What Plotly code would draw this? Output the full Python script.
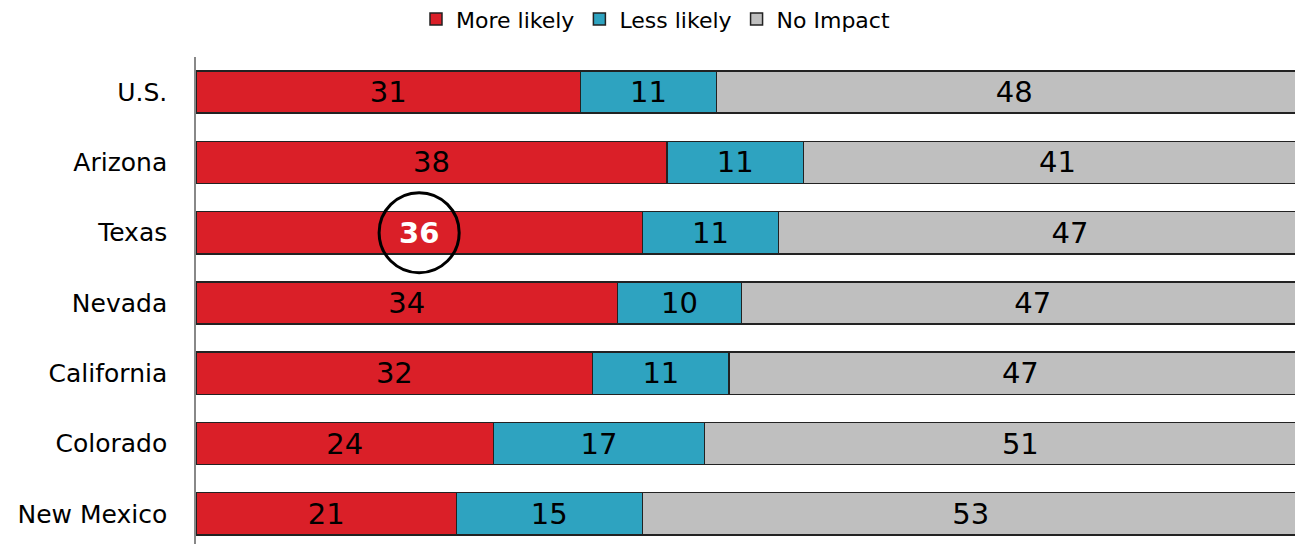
import plotly.graph_objects as go

regions = ["U.S.", "Arizona", "Texas", "Nevada", "California", "Colorado", "New Mexico"]
more_likely = [31, 38, 36, 34, 32, 24, 21]
less_likely = [11, 11, 11, 10, 11, 17, 15]
no_impact = [48, 41, 47, 47, 47, 51, 53]
highlight = "Texas"

colors = {"More likely": "#DA1F28", "Less likely": "#2EA3C0", "No Impact": "#BFBFBF"}
font_family = "'DejaVu Sans', sans-serif"

fig = go.Figure()
for name, values in [("More likely", more_likely), ("Less likely", less_likely), ("No Impact", no_impact)]:
    is_hi = [r == highlight and name == "More likely" for r in regions]
    fig.add_trace(go.Bar(
        name=name,
        y=regions,
        x=values,
        orientation="h",
        width=0.6,
        marker=dict(color=colors[name], line=dict(color="#222222", width=1.5)),
        text=[f"<b>{v}</b>" if h else str(v) for v, h in zip(values, is_hi)],
        textposition="inside",
        insidetextanchor="middle",
        textfont=dict(size=29, color=["white" if h else "black" for h in is_hi], family=font_family),
        hoverinfo="x+name",
    ))

# circle around the highlighted value (centred on its label)
hi = regions.index(highlight)
hx = more_likely[hi] / 2
fig.add_shape(type="circle", xref="x", yref="y",
              x0=hx - 3.23, x1=hx + 3.23, y0=hi - 0.57, y1=hi + 0.57,
              line=dict(color="black", width=3))

# page body adds an 8px margin, so the figure is sized to fit the window
fig.update_layout(
    barmode="stack",
    width=1295,
    height=536,
    margin=dict(l=188, r=0, t=49, b=0),
    plot_bgcolor="white",
    paper_bgcolor="white",
    font=dict(family=font_family, size=22, color="black"),
    legend=dict(
        orientation="h",
        xref="container", yref="container",
        x=0.5, y=0.979, xanchor="center", yanchor="middle",
        font=dict(size=22),
        traceorder="normal",
        itemwidth=30,
    ),
    xaxis=dict(range=[0, 89.3], visible=False, fixedrange=True),
    yaxis=dict(
        categoryorder="array",
        categoryarray=regions,
        range=[6.43, -0.5],
        showline=True,
        linecolor="#888888",
        linewidth=1.5,
        ticks="",
        ticklabelstandoff=22,
        tickfont=dict(size=25),
        showgrid=False,
    ),
)

fig.write_html("out.html")
